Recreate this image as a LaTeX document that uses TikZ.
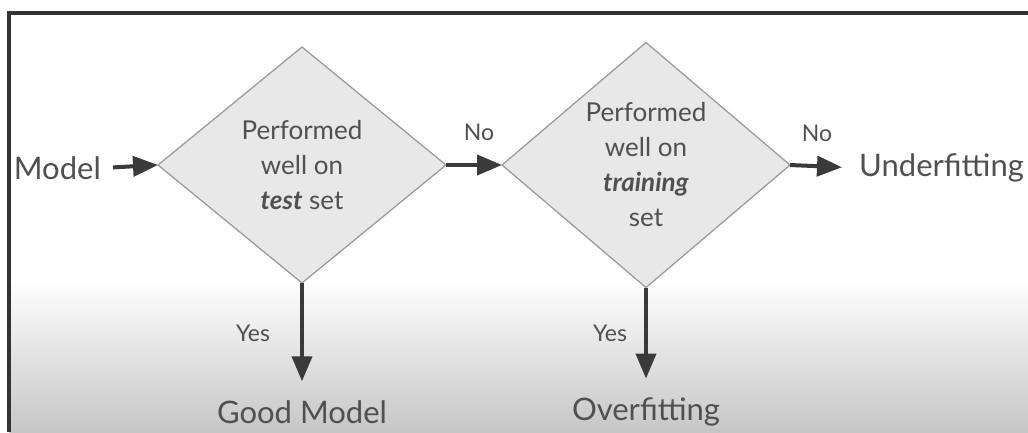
\documentclass[tikz,border=0pt]{standalone}
\usepackage{fontspec}
\setmainfont{Lato}
\usetikzlibrary{shapes.geometric,arrows.meta}
\definecolor{ink}{HTML}{3A3A3A}
\definecolor{textgray}{HTML}{505050}
\definecolor{boxfill}{HTML}{E8E8E8}
\definecolor{boxline}{HTML}{9C9C9C}
\definecolor{framecol}{HTML}{333333}
\definecolor{floor}{HTML}{C6C6C6}
\tikzset{
  decision/.style={diamond, draw=boxline, line width=1.3pt, fill=boxfill,
    minimum width=288pt, minimum height=236pt, inner sep=0pt, outer sep=0pt,
    align=center, text=textgray,
    font=\fontsize{26}{35}\selectfont},
  big/.style={text=textgray, inner sep=0pt, font=\fontsize{31}{36}\selectfont},
  small/.style={text=textgray, inner sep=0pt, font=\fontsize{23}{26}\selectfont},
  flow/.style={draw=ink, line width=4pt,
    -{Triangle[length=25pt,width=20pt]}, color=ink}
}
\begin{document}
\begin{tikzpicture}[x=1pt,y=-1pt]
\useasboundingbox (0,0) rectangle (1028,432);
% background: white panel fading to grey at the bottom
\fill[white] (0,0) rectangle (1028,432);
\shade[top color=white, bottom color=floor] (9,280) rectangle (1028,432);
% dark frame along top and left edges
\draw[framecol, line width=4pt] (9,432) -- (9,13) -- (1028,13);

% decisions
\node[decision] (d1) at (302,165) {Performed\\well on\\\textbf{\textit{test}} set};
\node[decision] (d2) at (646,165) {Performed\\well on\\\textbf{\textit{training}}\\set};

% terminals
\node[big, anchor=east] (model) at (101,168) {Model};
\node[big, anchor=west] (under) at (859,168) {Underfitting};
\node[big] (good) at (302,412) {Good Model};
\node[big] (over) at (646,412) {Overfitting};

% connectors
\draw[flow, shorten <=12pt] (model.east) -- (d1.west);
\draw[flow] (d1.east) -- (d2.west);
\draw[flow, shorten >=17pt] (d2.east) -- (under.west);
\draw[flow, shorten >=19pt] (d1.south) -- (d1.south |- good.north);
\draw[flow, shorten >=19pt] (d2.south) -- (d2.south |- over.north);

% branch labels
\node[small] (no1) at (479,132) {No};
\node[small] (no2) at (817,133) {No};
\node[small] (yes1) at (253,333) {Yes};
\node[small] (yes2) at (610,333) {Yes};
\end{tikzpicture}
\end{document}
